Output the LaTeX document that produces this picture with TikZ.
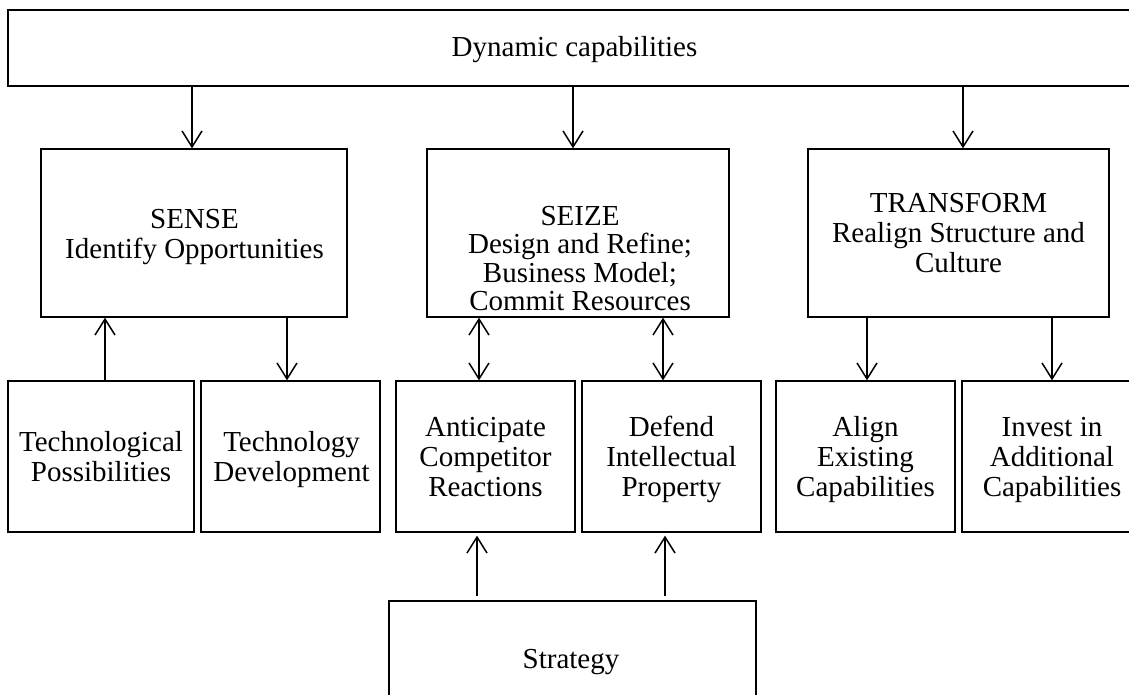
\documentclass[tikz,border=0pt]{standalone}
\usepackage{fontspec}
\setmainfont{Liberation Serif}
\usetikzlibrary{arrows.meta}

\begin{document}
\begin{tikzpicture}[x=1pt,y=-1pt,
  box/.style={draw=black, line width=1.3pt, inner sep=0pt, rectangle},
  % text is placed by the baseline of its last line
  lbl/.style={font=\fontsize{29}{30}\selectfont, align=center, anchor=base, inner sep=0pt},
  tightlbl/.style={lbl, font=\fontsize{29}{28.3}\selectfont},
  arr/.style={-{Straight Barb[length=16pt,width=20pt]}, line width=1.5pt},
  biarr/.style={{Straight Barb[length=16pt,width=20pt]}-{Straight Barb[length=16pt,width=20pt]}, line width=1.5pt}]

\useasboundingbox (0,0) rectangle (1129,695);
\fill[white] (0,0) rectangle (1129,695);
\clip (0,0) rectangle (1129,695);

% frames
\node[box, minimum width=1133pt, minimum height=76pt]  (top)        at (574.5,48) {};
\node[box, minimum width=306pt,  minimum height=168pt] (sense)      at (194,233) {};
\node[box, minimum width=302pt,  minimum height=168pt] (seize)      at (578,233) {};
\node[box, minimum width=301pt,  minimum height=168pt] (transform)  at (958.5,233) {};
\node[box, minimum width=186pt,  minimum height=151pt] (techposs)   at (101,456.5) {};
\node[box, minimum width=179pt,  minimum height=151pt] (techdev)    at (290.5,456.5) {};
\node[box, minimum width=179pt,  minimum height=151pt] (anticipate) at (485.5,456.5) {};
\node[box, minimum width=179pt,  minimum height=151pt] (defend)     at (671.5,456.5) {};
\node[box, minimum width=179pt,  minimum height=151pt] (align)      at (865.5,456.5) {};
\node[box, minimum width=179pt,  minimum height=151pt] (invest)     at (1051.5,456.5) {};
\node[box, minimum width=367pt,  minimum height=114pt] (strategy)   at (572.5,658) {};

% texts
\node[lbl] (tdyn)       at (574.5,56.7) {Dynamic capabilities};
\node[lbl] (tsense)     at (194.5,258.3) {SENSE\\Identify Opportunities};
\node[tightlbl] (tseize) at (580,310.3) {SEIZE\\Design and Refine;\\Business Model;\\Commit Resources};
\node[lbl] (ttransform) at (958.5,272.3) {TRANSFORM\\Realign Structure and\\Culture};
\node[lbl] (ttechposs)  at (101,481) {Technological\\Possibilities};
\node[lbl] (ttechdev)   at (291.5,481) {Technology\\Development};
\node[lbl] (tanticip)   at (485.5,496) {Anticipate\\Competitor\\Reactions};
\node[lbl] (tdefend)    at (671.5,496) {Defend\\Intellectual\\Property};
\node[lbl] (talign)     at (865.5,496) {Align\\Existing\\Capabilities};
\node[lbl] (tinvest)    at (1052,496) {Invest in\\Additional\\Capabilities};
\node[lbl] (tstrategy)  at (571,668) {Strategy};

% connectors
\draw[arr] ([xshift=-2pt]sense.north |- top.south) -- ([xshift=-2pt]sense.north);
\draw[arr] ([xshift=-5pt]seize.north |- top.south) -- ([xshift=-5pt]seize.north);
\draw[arr] ([xshift=4.5pt]transform.north |- top.south) -- ([xshift=4.5pt]transform.north);

\draw[arr] ([xshift=4pt]techposs.north) -- ([xshift=4pt]techposs.north |- sense.south);
\draw[arr] ([xshift=-3.5pt]techdev.north |- sense.south) -- ([xshift=-3.5pt]techdev.north);

\draw[biarr] ([xshift=-6.5pt]anticipate.north |- seize.south) -- ([xshift=-6.5pt]anticipate.north);
\draw[biarr] ([xshift=-8.5pt]defend.north |- seize.south) -- ([xshift=-8.5pt]defend.north);

\draw[arr, shorten <=4pt, shorten >=3pt] ([xshift=-8.5pt]anticipate.south |- strategy.north) -- ([xshift=-8.5pt]anticipate.south);
\draw[arr, shorten <=4pt, shorten >=3pt] ([xshift=-6.5pt]defend.south |- strategy.north) -- ([xshift=-6.5pt]defend.south);

\draw[arr] ([xshift=1.5pt]align.north |- transform.south) -- ([xshift=1.5pt]align.north);
\draw[arr] ([xshift=0.5pt]invest.north |- transform.south) -- ([xshift=0.5pt]invest.north);

\end{tikzpicture}
\end{document}
